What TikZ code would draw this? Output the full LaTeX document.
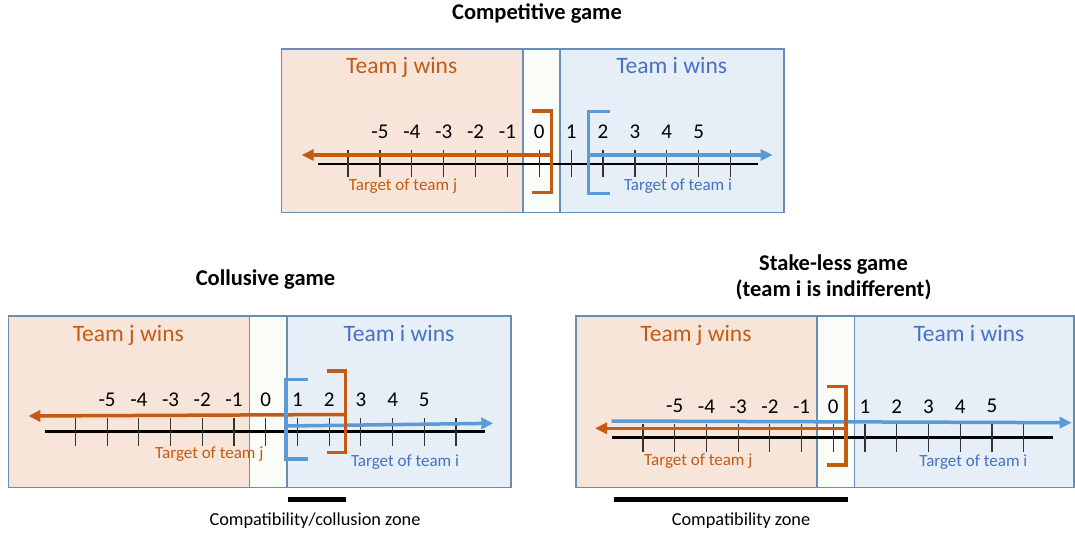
\documentclass[tikz,border=0pt]{standalone}
\usepackage{fontspec}
\setmainfont{Carlito}
\usetikzlibrary{arrows.meta}
\definecolor{jorange}{HTML}{C55A11}
\definecolor{iblue}{HTML}{4472C4}
\definecolor{arrblue}{HTML}{5B9BD5}
\definecolor{jfill}{HTML}{F8E5DA}
\definecolor{ifill}{HTML}{E6EEF8}
\definecolor{mfill}{HTML}{FAFCF7}
\definecolor{edge}{HTML}{6A8DB6}
\tikzset{
  title/.style={font=\bfseries\fontsize{22.5}{24}\selectfont, anchor=base, inner sep=0},
  teamj/.style={text=jorange, font=\fontsize{23.5}{25}\selectfont, anchor=base, inner sep=0},
  teami/.style={text=iblue, font=\fontsize{23.5}{25}\selectfont, anchor=base, inner sep=0},
  num/.style={font=\fontsize{21}{22}\selectfont, inner sep=0},
  targetj/.style={text=jorange, font=\fontsize{17}{18}\selectfont, anchor=base, inner sep=0},
  targeti/.style={text=iblue, font=\fontsize{17}{18}\selectfont, anchor=base, inner sep=0},
  note/.style={font=\fontsize{18.3}{19}\selectfont, anchor=base, inner sep=0},
  tickmark/.style={draw=black!80, line width=1.2pt},
  axisline/.style={draw=black, line width=2.6pt},
  jarrow/.style={draw=jorange, line width=3.5pt, -{Triangle[length=12pt,width=11pt]}},
  iarrow/.style={draw=arrblue, line width=3.5pt, -{Triangle[length=12pt,width=11pt]}},
  jbracket/.style={draw=jorange, line width=3.5pt, line join=miter},
  ibracket/.style={draw=arrblue, line width=3.5pt, line join=miter},
  zonebar/.style={draw=black, line width=5pt},
  frame/.style={draw=edge, line width=1.2pt},
  divider/.style={draw=edge, line width=1.6pt},
}
\begin{document}
\begin{tikzpicture}[x=1pt,y=-1pt]
\useasboundingbox[fill=white] (0,0) rectangle (1075,534);

% ===================== Competitive game =====================
\fill[jfill] (281.5,49) rectangle (523,212.5);
\fill[mfill] (523,49) rectangle (560,212.5);
\fill[ifill] (560,49) rectangle (784,212.5);
\draw[frame] (281.5,49) rectangle (784,212.5);
\draw[divider] (523,49) -- (523,212.5);
\draw[divider] (560,49) -- (560,212.5);
\node[title] (t1) at (537,20) {Competitive game};
\node[teamj] (t1j) at (401.7,74) {Team j wins};
\node[teami] (t1i) at (671.7,74) {Team i wins};
\coordinate (a1l) at (317.7,164);
\coordinate (a1r) at (757.7,164);
\draw[axisline] (a1l) -- (a1r);
\foreach \k in {-6,...,6} \draw[tickmark] ({539.3+\k*31.87},150) -- ({539.3+\k*31.87},177);
\foreach \k in {-5,...,5} \node[num] (n1\k) at ({539.3+\k*31.87},132) {\k};
\coordinate (j1s) at (551.7,155);
\coordinate (j1e) at (301.7,155);
\coordinate (i1s) at (588.3,155);
\coordinate (i1e) at (772.7,155);
\draw[jarrow] (j1s) -- (j1e);
\draw[iarrow] (i1s) -- (i1e);
\draw[jbracket] (532.3,111) -- (551.7,111) -- (551.7,192.7) -- (532.3,192.7);
\draw[ibracket] (610,111.7) -- (588.3,111.7) -- (588.3,193.3) -- (610,193.3);
\node[targetj] (g1j) at (403,190.7) {Target of team j};
\node[targeti] (g1i) at (678,190.7) {Target of team i};

% ===================== Collusive game =====================
\fill[jfill] (8.3,316) rectangle (249.3,487.3);
\fill[mfill] (249.3,316) rectangle (287,487.3);
\fill[ifill] (287,316) rectangle (511,487.3);
\draw[frame] (8.3,316) rectangle (511,487.3);
\draw[divider] (249.3,316) -- (249.3,487.3);
\draw[divider] (287,316) -- (287,487.3);
\node[title] (t2) at (265.5,286) {Collusive game};
\node[teamj] (t2j) at (128.3,341.7) {Team j wins};
\node[teami] (t2i) at (399,341.7) {Team i wins};
\coordinate (a2l) at (45,431.7);
\coordinate (a2r) at (485,431.7);
\draw[axisline] (a2l) -- (a2r);
\foreach \k in {-6,...,6} \draw[tickmark] ({265.7+\k*31.72},418.3) -- ({265.7+\k*31.72},446);
\foreach \k in {-5,...,5} \node[num] (n2\k) at ({265.7+\k*31.72},400) {\k};
\coordinate (j2s) at (345.7,414.5);
\coordinate (j2e) at (28.3,416);
\coordinate (i2s) at (287,426);
\coordinate (i2e) at (493.3,423.3);
\draw[jarrow] (j2s) -- (j2e);
\draw[iarrow] (i2s) -- (i2e);
\draw[ibracket] (308.3,379.3) -- (286,379.3) -- (286,459) -- (308.3,459);
\draw[jbracket] (326.7,371) -- (345.7,371) -- (345.7,452.7) -- (326.7,452.7);
\node[targetj] (g2j) at (209.3,458.3) {Target of team j};
\node[targeti] (g2i) at (405,466.7) {Target of team i};
\coordinate (z2l) at (288.3,499);
\coordinate (z2r) at (346,499);
\draw[zonebar] (z2l) -- (z2r);
\node[note] (c2) at (315,525) {Compatibility/collusion zone};

% ===================== Stake-less game =====================
\fill[jfill] (576,316) rectangle (816.7,487.3);
\fill[mfill] (816.7,316) rectangle (854.3,487.3);
\fill[ifill] (854.3,316) rectangle (1074,487.3);
\draw[frame] (576,316) rectangle (1074,487.3);
\draw[divider] (816.7,316) -- (816.7,487.3);
\draw[divider] (854.3,316) -- (854.3,487.3);
\node[title] (t3) at (833.5,270.7) {Stake-less game};
\node[title] (t3b) at (833.5,296.7) {(team i is indifferent)};
\node[teamj] (t3j) at (696,341.7) {Team j wins};
\node[teami] (t3i) at (969,341.7) {Team i wins};
\coordinate (a3l) at (612.3,437.3);
\coordinate (a3r) at (1052.7,437.3);
\draw[axisline] (a3l) -- (a3r);
\foreach \k in {-6,...,6} \draw[tickmark] ({833.3+\k*31.72},424.3) -- ({833.3+\k*31.72},451.7);
\foreach \k in {-5,...,5} \node[num] (n3\k) at ({833.3+\k*31.72},406.3) {\k};
\coordinate (i3s) at (611.7,421);
\coordinate (i3e) at (1071.7,422.7);
\coordinate (j3s) at (846,428.3);
\coordinate (j3e) at (595,428.3);
\draw[iarrow] (i3s) -- (i3e);
\draw[jarrow] (j3s) -- (j3e);
\draw[jbracket] (827.3,386.7) -- (846,386.7) -- (846,465) -- (827.3,465);
\node[targetj] (g3j) at (698.3,465.7) {Target of team j};
\node[targeti] (g3i) at (973.3,466.7) {Target of team i};
\coordinate (z3l) at (614,499);
\coordinate (z3r) at (848,499);
\draw[zonebar] (z3l) -- (z3r);
\node[note] (c3) at (741,525) {Compatibility zone};
\end{tikzpicture}
\end{document}
